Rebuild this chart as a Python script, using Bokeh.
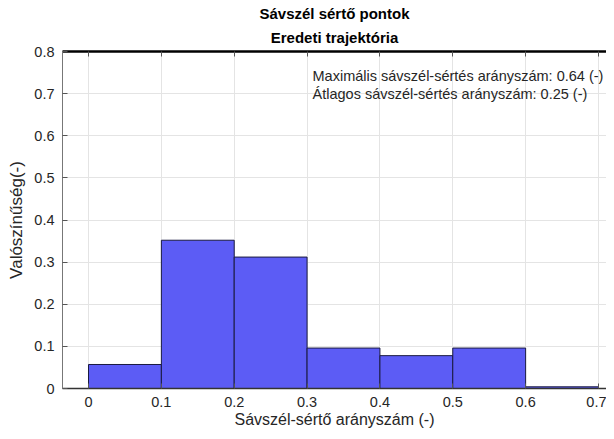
from bokeh.plotting import figure
from bokeh.models import Title, LinearAxis, FixedTicker, Label, Range1d
from bokeh.embed import file_html
from bokeh.resources import INLINE

# Data
bin_left = [0.0, 0.1, 0.2, 0.3, 0.4, 0.5, 0.6]
bin_right = [0.1, 0.2, 0.3, 0.4, 0.5, 0.6, 0.7]
probability = [0.057, 0.352, 0.312, 0.096, 0.078, 0.096, 0.004]
x_ticks = [0.0, 0.1, 0.2, 0.3, 0.4, 0.5, 0.6, 0.7]
x_tick_labels = ["0", "0.1", "0.2", "0.3", "0.4", "0.5", "0.6", "0.7"]
y_ticks = [0.0, 0.1, 0.2, 0.3, 0.4, 0.5, 0.6, 0.7, 0.8]
y_tick_labels = ["0", "0.1", "0.2", "0.3", "0.4", "0.5", "0.6", "0.7", "0.8"]
title_lines = ["Sávszél sértő pontok", "Eredeti trajektória"]
x_label = "Sávszél-sértő arányszám (-)"
y_label = "Valószínűség(-)"
notes = ["Maximális sávszél-sértés arányszám: 0.64 (-)",
         "Átlagos sávszél-sértés arányszám: 0.25 (-)"]
note_x = 0.3075
note_y = [0.741, 0.700]

FONT = "Liberation Sans"
DARK = "#262626"

p = figure(width=606, height=431, output_backend="svg", toolbar_location=None,
           x_range=Range1d(-0.0357, 0.711), y_range=Range1d(0, 0.8),
           min_border_left=62, min_border_right=0, min_border_top=51,
           min_border_bottom=43, background_fill_color="white",
           border_fill_color="white", outline_line_color=None)

p.quad(left=bin_left, right=bin_right, bottom=0, top=probability,
       fill_color="#5c5cf5", line_color="#1a1a40", line_width=1)

for ax, ticks, labels, txt in ((p.xaxis[0], x_ticks, x_tick_labels, x_label),
                               (p.yaxis[0], y_ticks, y_tick_labels, y_label)):
    ax.ticker = FixedTicker(ticks=ticks)
    ax.major_label_overrides = {t: l for t, l in zip(ticks, labels)}
    ax.axis_label = txt
    ax.axis_label_text_font = FONT
    ax.axis_label_text_font_style = "normal"
    ax.axis_label_text_font_size = "16px"
    ax.axis_label_text_color = DARK
    ax.major_label_text_font = FONT
    ax.major_label_text_font_size = "14.5px"
    ax.major_label_text_color = DARK
    ax.major_tick_in = 5
    ax.major_tick_out = 0
    ax.minor_tick_line_color = None
    ax.major_tick_line_color = "#555555"
    ax.axis_line_color = "#333333"

p.yaxis.axis_label_text_font_size = "17px"
p.xaxis.axis_label_standoff = 1
p.xaxis.major_label_standoff = 8
p.yaxis.axis_label_standoff = 5
p.yaxis.major_label_standoff = 8
p.xaxis.axis_line_width = 1.5
p.yaxis.axis_line_color = "#777777"

top_axis = LinearAxis(ticker=FixedTicker(ticks=x_ticks), major_label_text_font_size="0px",
                      major_tick_in=5, major_tick_out=0, minor_tick_line_color=None,
                      axis_line_color="black", axis_line_width=2.5,
                      major_tick_line_color="#555555")
p.add_layout(top_axis, "above")

p.grid.grid_line_color = "#e4e4e4"
p.grid.grid_line_width = 1
p.xgrid.ticker = FixedTicker(ticks=x_ticks)
p.ygrid.ticker = FixedTicker(ticks=y_ticks)

title_standoffs = [1, 8]
for line, so in reversed(list(zip(title_lines, title_standoffs))):
    p.add_layout(Title(text=line, align="center", text_font=FONT, text_font_size="15px",
                       text_font_style="bold", text_color="black", standoff=so,
                       offset=0, vertical_align="top"), "above")

for txt, yy in zip(notes, note_y):
    p.add_layout(Label(x=note_x, y=yy, text=txt, text_font=FONT, text_font_size="14.5px",
                       text_color=DARK, text_baseline="middle", text_align="left"))

open("out.html", "w").write(file_html(p, INLINE))
